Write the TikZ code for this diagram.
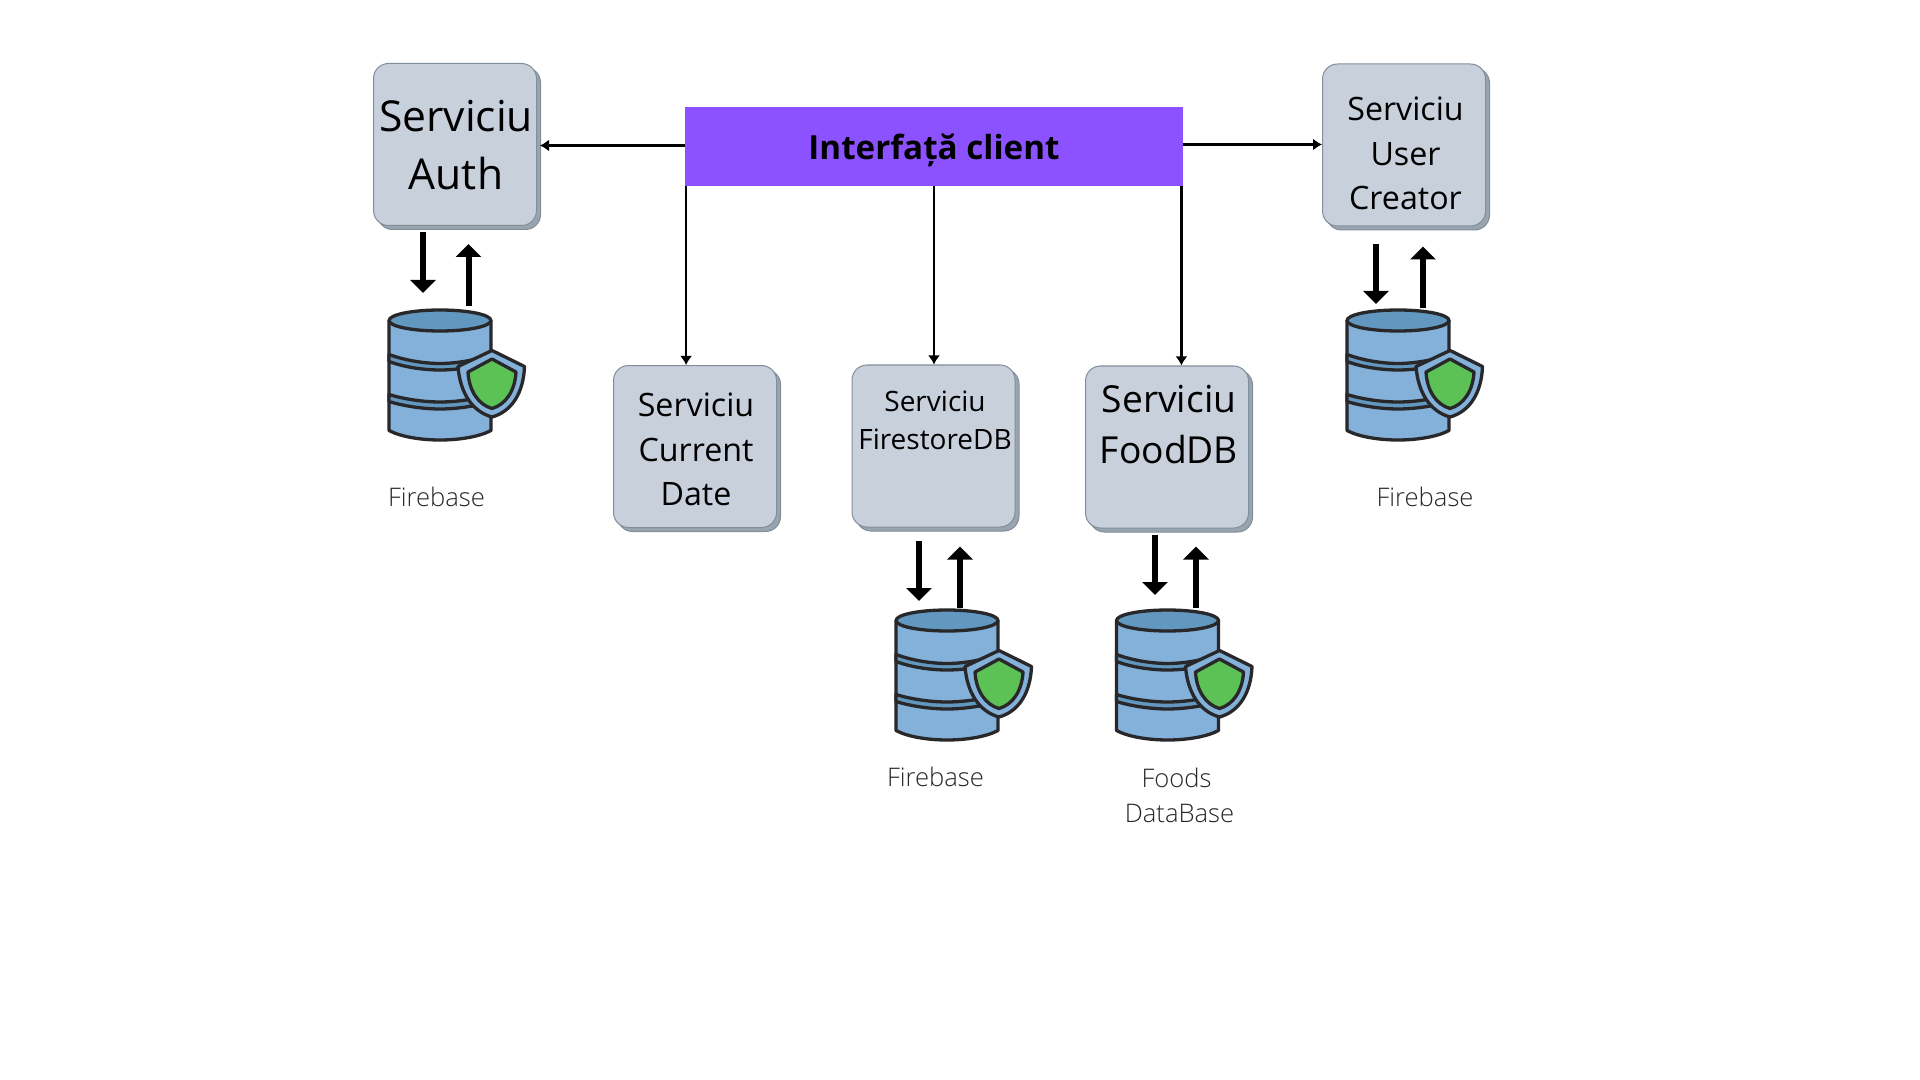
\documentclass[tikz,border=0pt]{standalone}
\usepackage{fontspec}
\setmainfont{Open Sans}
\newfontfamily\lightfont{Open Sans Light}
\usetikzlibrary{arrows.meta,calc,shadows}
\definecolor{uipurple}{RGB}{140,82,255}
\definecolor{boxgray}{RGB}{199,208,219}
\definecolor{boxedge}{RGB}{130,142,152}
\definecolor{boxshade}{RGB}{152,165,176}
\definecolor{dbblue}{RGB}{132,177,217}
\definecolor{dbdark}{RGB}{98,151,192}
\definecolor{dbline}{RGB}{40,40,42}
\definecolor{shieldgreen}{RGB}{92,194,86}
\tikzset{
  svcbox/.style={draw=boxedge,fill=boxgray,line width=0.5pt,rounded corners=7.5pt,minimum width=81.5pt,minimum height=81pt,inner sep=0pt,
    drop shadow={shadow xshift=2pt,shadow yshift=-2pt,fill=boxshade,draw=boxedge,opacity=1}},
  uibox/.style={fill=uipurple,minimum width=249pt,minimum height=39.5pt,inner sep=0pt,text depth=-0.5pt,font=\fontsize{16.6}{20}\bfseries},
  svctext/.style={align=center,inner sep=0pt,text=black},
  dbtext/.style={align=center,inner sep=0pt,text=black!85,font=\lightfont\fontsize{12.8}{17.6}\selectfont},
  arrow/.style={-{Latex[length=4.5pt,width=6pt]},line width=1.2pt},
  bigarrow/.style={-{Triangle[length=6.5pt,width=12.5pt]},line width=3pt},
  dbicon/.pic={
    \begin{scope}[draw=dbline,line width=1.65pt,line join=round]
    \filldraw[fill=dbblue] (-51,0) -- (-51,110) .. controls (-40,116) and (-20,119.5) .. (0,119.5) .. controls (20,119.5) and (40,116) .. (51,110) -- (51,0) -- cycle;
    \filldraw[fill=dbdark] (-51,34) .. controls (-35,40) and (-15,43) .. (0,43) .. controls (15,43) and (35,40) .. (51,34) -- (51,41) .. controls (35,47) and (15,49.5) .. (0,49.5) .. controls (-15,49.5) and (-35,47) .. (-51,41) -- cycle;
    \filldraw[fill=dbdark] (-51,74) .. controls (-35,79) and (-15,81.5) .. (0,81.5) .. controls (15,81.5) and (35,79) .. (51,74) -- (51,81) .. controls (35,86) and (15,88.5) .. (0,88.5) .. controls (-15,88.5) and (-35,86) .. (-51,81) -- cycle;
    \filldraw[fill=dbdark] (0,0) ellipse [x radius=51,y radius=10.5];
    \filldraw[fill=dbblue] (52,30) -- (84.5,46) .. controls (83.5,72) and (72,91) .. (52,96.5) .. controls (32,91) and (20,72) .. (18,46) -- cycle;
    \filldraw[fill=shieldgreen] (52,38.5) -- (76,51.5) .. controls (75,70) and (66,84) .. (52,88) .. controls (38,84) and (29,70) .. (28,51.5) -- cycle;
    \end{scope}
  }
}
\begin{document}
\begin{tikzpicture}[x=0.5pt,y=-0.5pt]
\useasboundingbox (0,0) rectangle (1920,1080);
% Client
\node[uibox] (ui) at (934,146.5) {Interfață client};
% Services
\node[svcbox] (auth) at (455,144.5) {};
\node[svcbox] (curr) at (695,446.5) {};
\node[svcbox] (fire) at (933.5,446) {};
\node[svcbox] (food) at (1167,447) {};
\node[svcbox] (user) at (1404,145) {};
\node[svctext,font=\fontsize{21.3}{29.4}\selectfont] (authtxt) at (456,145) {Serviciu\\Auth};
\node[svctext,font=\fontsize{16.1}{22.3}\selectfont] (currtxt) at (696,449.5) {Serviciu\\Current\\Date};
\node[svctext,font=\fontsize{14}{19}\selectfont] (firetxt) at (935,420.5) {Serviciu\\FirestoreDB};
\node[svctext,font=\fontsize{18.6}{25.7}\selectfont] (foodtxt) at (1169,424.5) {Serviciu\\FoodDB};
\node[svctext,font=\fontsize{16.1}{22.3}\selectfont] (usertxt) at (1405.5,153.5) {Serviciu\\User\\Creator};
% Client arrows
\draw[arrow,shorten >=1.5pt] ([yshift=0.5pt]ui.west) -- ([yshift=0.5pt]ui.west -| auth.east);
\draw[arrow] ([yshift=1pt]ui.east) -- ([yshift=1pt]ui.east -| user.west);
\draw[arrow] ([xshift=0.75pt]ui.south west) -- ([xshift=0.75pt]ui.south west |- curr.north);
\draw[arrow] (ui.south) -- (ui.south |- fire.north);
\draw[arrow] ([xshift=-1pt]ui.south east) -- ([xshift=-1pt]ui.south east |- food.north);
% Databases
\coordinate (authdb) at (440,320.5);
\coordinate (userdb) at (1398,320.5);
\coordinate (firedb) at (947,620.5);
\coordinate (fooddb) at (1167.5,620.5);
\foreach \db in {authdb,userdb,firedb,fooddb}{\pic at (\db) {dbicon};}
\draw[bigarrow] ($(auth.south)+(-32,6)$) -- ($(authdb)+(-17,-27.5)$);
\draw[bigarrow] ($(authdb)+(28.5,-14.5)$) -- ($(auth.south)+(13.5,18)$);
\draw[bigarrow] ($(user.south)+(-28,18)$) -- ($(userdb)+(-22,-16.5)$);
\draw[bigarrow] ($(userdb)+(25,-12.5)$) -- ($(user.south)+(19,20)$);
\draw[bigarrow] ($(fire.south)+(-14.5,13)$) -- ($(firedb)+(-28,-19.5)$);
\draw[bigarrow] ($(firedb)+(13,-12.5)$) -- ($(fire.south)+(26.5,19)$);
\draw[bigarrow] ($(food.south)+(-12,6)$) -- ($(fooddb)+(-12.5,-25.5)$);
\draw[bigarrow] ($(fooddb)+(28.5,-12.5)$) -- ($(food.south)+(29,18)$);
% Database labels
\node[dbtext] (authlbl) at (436.5,497) {Firebase};
\node[dbtext] (userlbl) at (1425,497) {Firebase};
\node[dbtext] (firelbl) at (935.5,777) {Firebase};
\node[dbtext] (foodlbl) at (1179.5,795) {Foods\hspace*{3pt}\\DataBase};
\end{tikzpicture}
\end{document}
